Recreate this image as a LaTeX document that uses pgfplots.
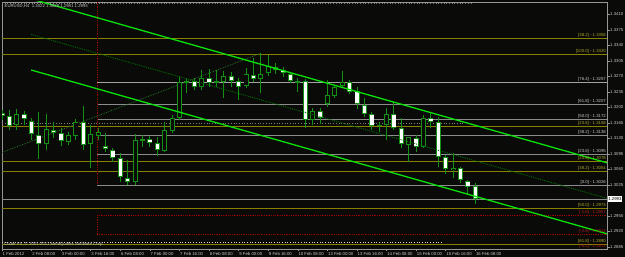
\documentclass[border=0pt]{standalone}
\usepackage{pgfplots}
\pgfplotsset{compat=1.18}
\usepackage{pgfplotstable}
\usepackage{fontspec}
\setmainfont{Liberation Sans}
\definecolor{bg}{RGB}{10,10,8}
\definecolor{axisgray}{RGB}{150,150,150}
\definecolor{labgray}{RGB}{200,200,200}
\definecolor{fibgray}{RGB}{140,140,140}
\definecolor{dotgray}{RGB}{125,125,125}
\definecolor{fibyel}{RGB}{135,128,0}
\definecolor{labyel}{RGB}{175,170,40}
\definecolor{fibred}{RGB}{150,0,0}
\definecolor{labred}{RGB}{180,30,30}
\definecolor{chan}{RGB}{10,225,10}
\definecolor{chandot}{RGB}{0,110,0}
\definecolor{candle}{RGB}{20,145,20}
\tikzset{fiblab/.style={anchor=south east, inner sep=0pt, xshift=-1bp, yshift=0.8bp}}

\pgfplotstableread{
k O H L C
0 1.31865 1.31939 1.31713 1.31811
1 1.31811 1.31939 1.31488 1.31585
3 1.31849 1.31917 1.31601 1.31729
4 1.31698 1.31765 1.31262 1.31397
5 1.31375 1.31901 1.30833 1.31165
7 1.31488 1.31675 1.31307 1.31427
8 1.31427 1.31533 1.31133 1.31246
11 1.31662 1.32036 1.31036 1.31142
14 1.31133 1.31420 1.30998 1.31059
15 1.31029 1.31074 1.30772 1.30862
16 1.30862 1.30968 1.30313 1.30420
17 1.30397 1.30810 1.30246 1.30307
20 1.31278 1.31359 1.31110 1.31201
21 1.31187 1.31336 1.30907 1.31036
26 1.32594 1.32655 1.32391 1.32452
28 1.32668 1.32865 1.32465 1.32556
31 1.32714 1.32804 1.32452 1.32594
32 1.32587 1.32655 1.32165 1.32465
34 1.32736 1.33107 1.32578 1.32646
37 1.32917 1.32994 1.32752 1.32842
38 1.32842 1.32917 1.32691 1.32781
39 1.32752 1.32804 1.32542 1.32594
41 1.32594 1.32639 1.31533 1.31713
43 1.31923 1.31978 1.31616 1.31752
47 1.32565 1.32617 1.32294 1.32352
48 1.32368 1.32465 1.31955 1.32075
49 1.32052 1.32203 1.31788 1.31842
50 1.31849 1.31901 1.31488 1.31585
53 1.31842 1.32127 1.31488 1.31540
54 1.31540 1.31752 1.31074 1.31165
56 1.31300 1.31375 1.30998 1.31097
58 1.31752 1.31865 1.31526 1.31675
59 1.31675 1.31788 1.30659 1.30885
60 1.30885 1.30923 1.30494 1.30600
62 1.30636 1.30652 1.30284 1.30359
63 1.30343 1.30359 1.30020 1.30194
64 1.30220 1.30280 1.29810 1.29930
}\bear

\pgfplotstableread{
k O H L C
2 1.31601 1.31962 1.31488 1.31842
6 1.31165 1.31849 1.31036 1.31503
9 1.31223 1.31449 1.31149 1.31375
10 1.31359 1.31729 1.31262 1.31662
12 1.31165 1.31601 1.30636 1.31391
13 1.31359 1.31533 1.31262 1.31449
18 1.30307 1.31391 1.30246 1.31262
19 1.31250 1.31375 1.31110 1.31278
22 1.31020 1.31662 1.30998 1.31488
23 1.31472 1.31826 1.31413 1.31765
24 1.31765 1.32707 1.31713 1.32571
25 1.32549 1.32662 1.32323 1.32594
27 1.32452 1.32842 1.32391 1.32655
29 1.32549 1.32842 1.32452 1.32594
30 1.32565 1.32820 1.32210 1.32707
33 1.32481 1.32881 1.32436 1.32752
35 1.32632 1.33220 1.32316 1.32752
36 1.32768 1.33181 1.32707 1.32940
40 1.32560 1.32662 1.32346 1.32605
42 1.31713 1.31978 1.31601 1.31917
44 1.32075 1.32617 1.32014 1.32278
45 1.32262 1.32504 1.32203 1.32452
46 1.32481 1.32827 1.32429 1.32571
51 1.31589 1.31675 1.31449 1.31612
52 1.31601 1.31978 1.31262 1.31842
55 1.31149 1.31336 1.30772 1.31336
57 1.31097 1.31826 1.31074 1.31752
61 1.30584 1.30962 1.30397 1.30636
}\bull

\begin{document}
\begin{tikzpicture}[font=\fontsize{4.3}{5}\selectfont]
\fill[bg] (-2bp,-8bp) rectangle (623bp,249bp);
\begin{axis}[
  at={(0,0)}, anchor=south west,
  scale only axis, width=605bp, height=247bp,
  xmin=0, xmax=81.8, ymin=1.28801, ymax=1.34378,
  clip mode=individual,
  axis line style={draw=axisgray, line width=0.8bp},
  xtick pos=bottom, ytick pos=right, yticklabel pos=right,
  tick align=outside, major tick length=2.5bp,
  tick style={draw=axisgray, line width=0.6bp},
  xtick={0,4,...,64},
  xticklabels={1 Feb 2012, 2 Feb 08:00, 3 Feb 00:00, 3 Feb 16:00, 6 Feb 08:00, 7 Feb 00:00, 7 Feb 16:00, 8 Feb 08:00, 9 Feb 00:00, 9 Feb 16:00, 10 Feb 08:00, 13 Feb 00:00, 13 Feb 16:00, 14 Feb 08:00, 15 Feb 00:00, 15 Feb 16:00, 16 Feb 08:00},
  xticklabel style={anchor=north west, inner sep=0pt, xshift=0.5bp, yshift=-0.5bp, text=labgray},
  ytick={1.2885,1.2920,1.2955,1.3025,1.3060,1.3095,1.3130,1.3165,1.3200,1.3235,1.3270,1.3305,1.3340,1.3375,1.3410},
  yticklabels={1.2885,1.2920,1.2955,1.3025,1.3060,1.3095,1.3130,1.3165,1.3200,1.3235,1.3270,1.3305,1.3340,1.3375,1.3410},
  yticklabel style={anchor=west, inner sep=0pt, xshift=0.5bp, text=labgray},
]
% dotted helper lines
\addplot[dotgray, dotted, line width=0.7bp] coordinates {(0,1.34348) (63.7,1.34348)};
\addplot[dotgray, dotted, line width=0.7bp] coordinates {(0,1.31639) (62.6,1.31639)};
\addplot[labgray!85, dotted, line width=0.7bp] coordinates {(0,1.28952) (59.6,1.28952)};
% yellow full-width levels
\addplot[fibyel, line width=0.9bp] coordinates {(0,1.33558) (81.8,1.33558)};
\addplot[fibyel, line width=0.9bp] coordinates {(0,1.33204) (81.8,1.33204)};
\addplot[fibyel, line width=0.9bp] coordinates {(0,1.31562) (81.8,1.31562)};
\addplot[fibyel, line width=0.9bp] coordinates {(0,1.30788) (81.8,1.30788)};
\addplot[fibyel, line width=0.9bp] coordinates {(0,1.30562) (81.8,1.30562)};
\addplot[fibyel, line width=0.9bp] coordinates {(0,1.29720) (81.8,1.29720)};
\addplot[fibyel, line width=0.9bp] coordinates {(0,1.28914) (81.8,1.28914)};
% gray levels starting at the red vertical
\addplot[fibgray!80, line width=0.9bp] coordinates {(12.85,1.32565) (81.8,1.32565)};
\addplot[fibgray, line width=0.9bp] coordinates {(12.85,1.32068) (81.8,1.32068)};
\addplot[fibgray, line width=0.9bp] coordinates {(12.85,1.31736) (81.8,1.31736)};
\addplot[fibgray, line width=0.9bp] coordinates {(12.85,1.31375) (81.8,1.31375)};
\addplot[fibgray, line width=0.9bp] coordinates {(12.85,1.30939) (81.8,1.30939)};
\addplot[fibgray, line width=0.9bp] coordinates {(12.85,1.30246) (81.8,1.30246)};
% bid line
\addplot[fibgray, line width=0.9bp] coordinates {(0,1.2993) (81.8,1.2993)};
% red dotted
\addplot[fibred, densely dotted, line width=0.8bp] coordinates {(12.85,1.34378) (12.85,1.30246)};
\addplot[fibred, densely dotted, line width=0.8bp] coordinates {(12.85,1.29568) (12.85,1.29139)};
\addplot[fibred, densely dotted, line width=0.8bp] coordinates {(12.85,1.29568) (81.8,1.29568)};
\addplot[fibred, densely dotted, line width=0.8bp] coordinates {(12.85,1.29139) (81.8,1.29139)};
% rising dotted line
\addplot[chandot!70!gray, densely dotted, line width=0.8bp] coordinates {(0,1.30980) (35,1.33220)};
% wicks
\addplot[draw=none, mark=none, forget plot, error bars/.cd, y dir=plus, y explicit, error mark=none,
  error bar style={draw=candle, line width=1bp}]
  table[x=k, y=L, y error expr=\thisrow{H}-\thisrow{L}] {\bear};
\addplot[draw=none, mark=none, forget plot, error bars/.cd, y dir=plus, y explicit, error mark=none,
  error bar style={draw=candle, line width=1bp}]
  table[x=k, y=L, y error expr=\thisrow{H}-\thisrow{L}] {\bull};
% bodies outer
\addplot[draw=none, mark=none, forget plot, error bars/.cd, y dir=plus, y explicit, error mark=none,
  error bar style={draw=candle, line width=5bp}]
  table[x=k, y expr={min(\thisrow{O},\thisrow{C})}, y error expr={max(abs(\thisrow{C}-\thisrow{O}),0.00023)}] {\bear};
\addplot[draw=none, mark=none, forget plot, error bars/.cd, y dir=plus, y explicit, error mark=none,
  error bar style={draw=candle, line width=5bp}]
  table[x=k, y expr={min(\thisrow{O},\thisrow{C})}, y error expr={max(abs(\thisrow{C}-\thisrow{O}),0.00023)}] {\bull};
% bodies inner
\addplot[draw=none, mark=none, forget plot, error bars/.cd, y dir=plus, y explicit, error mark=none,
  error bar style={draw=white, line width=3.4bp}]
  table[x=k, y expr={min(\thisrow{O},\thisrow{C})+0.0002}, y error expr={max(abs(\thisrow{C}-\thisrow{O})-0.0004,0)}] {\bear};
\addplot[draw=none, mark=none, forget plot, error bars/.cd, y dir=plus, y explicit, error mark=none,
  error bar style={draw=bg, line width=3.2bp}]
  table[x=k, y expr={min(\thisrow{O},\thisrow{C})+0.00023}, y error expr={max(abs(\thisrow{C}-\thisrow{O})-0.00046,0)}] {\bull};
% channel
\addplot[chan, line width=1.3bp] coordinates {(3.96,1.34447) (81.8,1.30747)};
\addplot[chan, line width=1.3bp] coordinates {(3.96,1.32842) (81.8,1.29144)};
\addplot[chandot, densely dotted, line width=0.9bp] coordinates {(3.96,1.33644) (81.8,1.29945)};
% labels
\node[fiblab, text=labyel] at (axis cs:81.8,1.33558) {[38.2] - 1.3356};
\node[fiblab, text=labyel] at (axis cs:81.8,1.33204) {[100.0] - 1.3320};
\node[fiblab, text=labgray] at (axis cs:81.8,1.32565) {[76.4] - 1.3257};
\node[fiblab, text=labgray] at (axis cs:81.8,1.32068) {[61.8] - 1.3207};
\node[fiblab, text=labgray] at (axis cs:81.8,1.31736) {[50.0] - 1.3172};
\node[fiblab, text=labyel] at (axis cs:81.8,1.31562) {[23.6] - 1.3158};
\node[fiblab, text=labgray] at (axis cs:81.8,1.31375) {[38.2] - 1.3138};
\node[fiblab, text=labgray] at (axis cs:81.8,1.30939) {[23.6] - 1.3095};
\node[fiblab, text=labyel] at (axis cs:81.8,1.30788) {[23.6] - 1.3078};
\node[fiblab, text=labyel] at (axis cs:81.8,1.30562) {[38.2] - 1.3054};
\node[fiblab, text=labgray] at (axis cs:81.8,1.30246) {[0.0] - 1.3026};
\node[fiblab, text=labyel] at (axis cs:81.8,1.29720) {[50.0] - 1.2973};
\node[fiblab, text=labred] at (axis cs:81.8,1.29568) {[-1.6] - 1.2957};
\node[fiblab, text=labred] at (axis cs:81.8,1.29139) {[-2.6] - 1.2914};
\node[fiblab, text=labyel] at (axis cs:81.8,1.28914) {[61.8] - 1.2890};
\node[anchor=north east, inner sep=0pt, text=labred, xshift=-1bp, yshift=-0.3bp] at (axis cs:81.8,1.28914) {[-4.2] - 1.2873};
% title, copyright, bid box
\node[anchor=north west, inner sep=0pt, text=labgray, xshift=2.5bp, yshift=-2.5bp] at (rel axis cs:0,1) {EURUSD,H4\ \ 1.3022 1.3028 1.2981 1.2993};
\node[anchor=south west, inner sep=0pt, text=labgray, xshift=2bp, yshift=2.5bp] at (rel axis cs:0,0) {Coder FX, \textcopyright{} 2001-2011 MetaQuotes Software Corp.};
\node[anchor=west, fill=white, text=black, inner xsep=0.6bp, inner ysep=1.2bp, xshift=0.5bp] at (axis cs:81.8,1.2993) {1.2993};
\end{axis}
\pgfresetboundingbox
\useasboundingbox (-2bp,-8bp) rectangle (623bp,249bp);
\end{tikzpicture}
\end{document}
